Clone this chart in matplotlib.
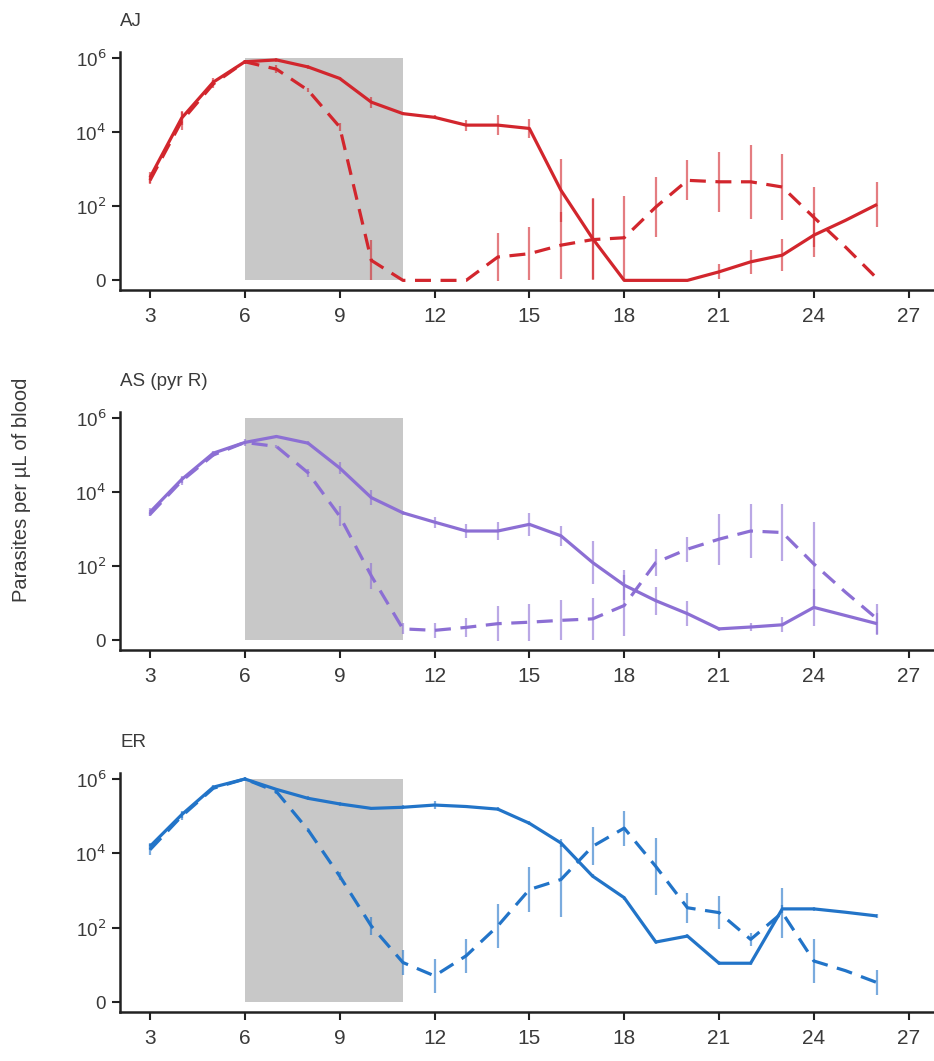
import matplotlib
matplotlib.use("Agg")
import matplotlib.pyplot as plt
import numpy as np

plt.rcParams['font.family'] = ['Liberation Sans', 'DejaVu Sans']

# ---------------- data (log10 parasites per uL of blood) ----------------
days = list(range(3, 27))

aj_solid = [2.78, 4.38, 5.35, 5.90, 5.95, 5.76, 5.45, 4.81, 4.50, 4.40, 4.19, 4.19,
            4.10, 2.43, 1.13, 0.00, 0.00, 0.00, 0.23, 0.50, 0.68, 1.22, 1.62, 2.05]
aj_solid_err = [0.15, 0.20, 0.10, 0.05, 0.05, 0.05, 0.05, 0.15, 0.05, 0.05, 0.15, 0.27,
                0.25, 0.85, 1.10, 0.00, 0.00, 0.00, 0.20, 0.32, 0.43, 0.60, 0.00, 0.60]
aj_dash = [2.70, 4.30, 5.30, 5.90, 5.70, 5.13, 4.14, 0.54, 0.00, 0.00, 0.00, 0.63,
           0.72, 0.95, 1.10, 1.15, 1.98, 2.70, 2.66, 2.66, 2.52, 1.70, 0.90, 0.05]
aj_dash_err = [0.10, 0.25, 0.10, 0.05, 0.10, 0.05, 0.10, 0.54, 0.00, 0.00, 0.00, 0.65,
               0.72, 0.90, 1.10, 1.13, 0.81, 0.54, 0.81, 1.00, 0.88, 0.81, 0.00, 0.00]

as_solid = [3.46, 4.34, 5.05, 5.34, 5.50, 5.32, 4.65, 3.85, 3.44, 3.19, 2.95, 2.95,
            3.13, 2.82, 2.10, 1.49, 1.07, 0.72, 0.31, 0.36, 0.42, 0.89, 0.67, 0.45]
as_solid_err = [0.10, 0.10, 0.05, 0.10, 0.05, 0.05, 0.15, 0.20, 0.05, 0.15, 0.20, 0.25,
                0.31, 0.27, 0.58, 0.40, 0.38, 0.34, 0.05, 0.12, 0.20, 0.50, 0.00, 0.30]
as_dash = [3.40, 4.30, 5.00, 5.34, 5.23, 4.52, 3.35, 1.74, 0.31, 0.27, 0.35, 0.45,
           0.49, 0.54, 0.58, 0.94, 2.10, 2.46, 2.73, 2.95, 2.91, 2.06, 1.30, 0.58]
as_dash_err = [0.05, 0.10, 0.05, 0.05, 0.05, 0.10, 0.27, 0.36, 0.15, 0.20, 0.25, 0.47,
               0.50, 0.54, 0.56, 0.83, 0.36, 0.34, 0.69, 0.74, 0.76, 1.12, 0.00, 0.40]

er_solid = [4.19, 5.04, 5.78, 6.00, 5.72, 5.48, 5.33, 5.21, 5.24, 5.30, 5.26, 5.19,
            4.81, 4.28, 3.39, 2.81, 1.62, 1.78, 1.05, 1.05, 2.51, 2.51, 2.42, 2.32]
er_solid_err = [0.10, 0.10, 0.05, 0.05, 0.05, 0.05, 0.05, 0.05, 0.05, 0.10, 0.05, 0.05,
                0.05, 0.10, 0.05, 0.05, 0.05, 0.05, 0.05, 0.05, 0.10, 0.05, 0.00, 0.05]
er_dash = [4.10, 5.00, 5.75, 6.00, 5.66, 4.63, 3.39, 2.05, 1.07, 0.71, 1.25, 2.05,
           3.03, 3.30, 4.19, 4.68, 3.65, 2.54, 2.41, 1.69, 2.41, 1.11, 0.85, 0.53]
er_dash_err = [0.15, 0.10, 0.05, 0.05, 0.05, 0.05, 0.10, 0.25, 0.33, 0.45, 0.45, 0.58,
               0.60, 1.02, 0.51, 0.47, 0.76, 0.40, 0.45, 0.18, 0.67, 0.58, 0.00, 0.33]

panel_titles = ["AJ", "AS (pyr R)", "ER"]
panel_colors = ["#d2262d", "#8c6fd4", "#2274c8"]
treat_start, treat_end = 6, 11
x_ticks = [3, 6, 9, 12, 15, 18, 21, 24, 27]
y_ticks = [0, 2, 4, 6]
y_ticklabels = ["0", r"10$^2$", r"10$^4$", r"10$^6$"]
y_label = "Parasites per µL of blood"

panels = [
    (aj_solid, aj_solid_err, aj_dash, aj_dash_err),
    (as_solid, as_solid_err, as_dash, as_dash_err),
    (er_solid, er_solid_err, er_dash, er_dash_err),
]

W, H = 934, 1061
fig = plt.figure(figsize=(W / 100, H / 100), dpi=100)

# axes boxes in pixels: (bottom spine y, top y)
boxes = [(290, 52.5), (650, 412.4), (1012, 773.4)]
left_px = 120
ylo, yhi = -0.26, 6.15
dark = "#222222"
txt = "#3a3a3a"

for (solid, solid_err, dash, dash_err), title, col, (yb, yt) in zip(
        panels, panel_titles, panel_colors, boxes):
    ax = fig.add_axes([left_px / W, 1 - yb / H, 1 - left_px / W, (yb - yt) / H])
    ax.add_patch(plt.Rectangle((treat_start, 0), treat_end - treat_start, 6,
                               facecolor="#c8c8c8", edgecolor="none", zorder=0))
    d = np.array(days)
    for vals, errs, ls in [(solid, solid_err, "-"), (dash, dash_err, (0, (5, 3)))]:
        v = np.array(vals)
        e = np.array(errs)
        m = e > 0
        ax.vlines(d[m], v[m] - e[m], v[m] + e[m], colors=col, alpha=0.6,
                  linewidth=1.6, zorder=2)
        ax.plot(d, v, color=col, linewidth=2.3, linestyle=ls, zorder=3,
                solid_capstyle="butt", dash_capstyle="butt")
    ax.set_xlim(2.05, 27.8)
    ax.set_ylim(ylo, yhi)
    ax.set_xticks(x_ticks)
    ax.set_yticks(y_ticks)
    ax.set_yticklabels(y_ticklabels)
    for s in ["top", "right"]:
        ax.spines[s].set_visible(False)
    for s in ["left", "bottom"]:
        ax.spines[s].set_linewidth(1.8)
        ax.spines[s].set_color(dark)
    ax.tick_params(axis="both", direction="out", length=6, width=1.5, color=dark)
    ax.tick_params(axis="x", labelsize=15, labelcolor=txt, pad=6)
    ax.tick_params(axis="y", labelsize=13.5, labelcolor=txt, pad=4)
    ax.text(0.0, 1 + 31 / (yb - yt), title, transform=ax.transAxes,
            ha="left", va="center", fontsize=13.5, color=txt)

fig.text(22 / W, 1 - 490 / H, y_label, rotation=90, ha="center", va="center",
         fontsize=14.5, color=txt)

fig.savefig("out.png", dpi=100)
